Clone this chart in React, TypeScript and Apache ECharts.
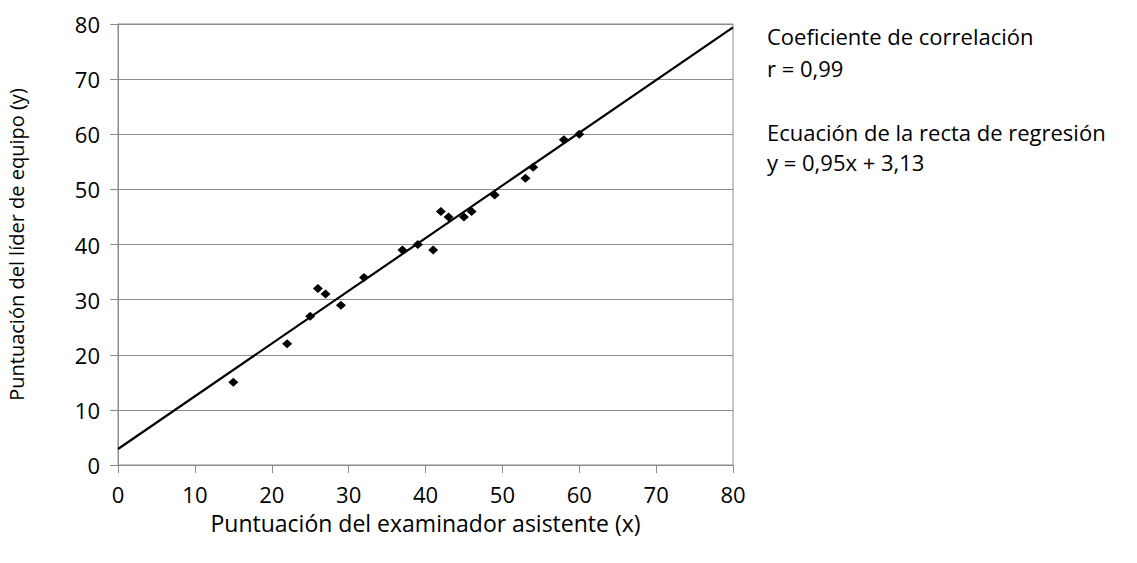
import React, { useEffect, useRef } from "react";
import * as echarts from "echarts";

const xValues = [15, 22, 25, 26, 27, 29, 32, 37, 39, 41, 42, 43, 45, 46, 49, 53, 54, 58, 60];
const yValues = [15, 22, 27, 32, 31, 29, 34, 39, 40, 39, 46, 45, 45, 46, 49, 52, 54, 59, 60];
const lineX = [0, 80];
const lineY = [2.9, 79.4];
const xTitle = "Puntuación del examinador asistente (x)";
const yTitle = "Puntuación del líder de equipo (y)";
const notes = [
  "Coeficiente de correlación",
  "r = 0,99",
  "Ecuación de la recta de regresión",
  "y = 0,95x + 3,13",
];

const FONT = "'Open Sans', 'Noto Sans', sans-serif";
const noteY = [36, 68, 132, 162];

export default function App() {
  const ref = useRef<HTMLDivElement>(null);
  useEffect(() => {
    if (!ref.current) return;
    const chart = echarts.init(ref.current, undefined, { renderer: "svg" });
    const points = xValues.map((x, i) => [x, yValues[i]]);
    const line = lineX.map((x, i) => [x, lineY[i]]);
    chart.setOption({
      animation: false,
      backgroundColor: "#fff",
      textStyle: { fontFamily: FONT },
      grid: {
        left: 118,
        right: 404,
        top: 24,
        bottom: 98,
        show: true,
        borderColor: "#8c8c8c",
        borderWidth: 1,
        containLabel: false,
        outerBoundsMode: "none",
      },
      xAxis: {
        type: "value",
        min: 0,
        max: 80,
        interval: 10,
        name: xTitle,
        nameLocation: "middle",
        nameGap: 46,
        nameTextStyle: { fontSize: 23, color: "#000", fontFamily: FONT },
        axisLine: { show: true, lineStyle: { color: "#8c8c8c", width: 1 } },
        axisTick: { show: true, inside: false, length: 8, lineStyle: { color: "#8c8c8c" } },
        axisLabel: { fontSize: 22, color: "#000", margin: 18, fontFamily: FONT },
        splitLine: { show: false },
      },
      yAxis: {
        type: "value",
        min: 0,
        max: 80,
        interval: 10,
        name: yTitle,
        nameLocation: "middle",
        nameGap: 92,
        nameRotate: 90,
        nameTextStyle: { fontSize: 20, color: "#000", fontFamily: FONT },
        axisLine: { show: true, lineStyle: { color: "#8c8c8c", width: 1 } },
        axisTick: { show: true, inside: false, length: 8, lineStyle: { color: "#8c8c8c" } },
        axisLabel: { fontSize: 22, color: "#000", margin: 18, fontFamily: FONT },
        splitLine: { show: true, lineStyle: { color: "#8c8c8c", width: 1 } },
      },
      graphic: notes.map((t, i) => ({
        type: "text",
        x: 767,
        y: noteY[i],
        style: { text: t, fontSize: 22, fill: "#000", fontFamily: FONT, verticalAlign: "middle", align: "left" },
      })),
      series: [
        {
          type: "line",
          data: line,
          showSymbol: false,
          symbol: "none",
          lineStyle: { color: "#000", width: 2.2 },
          z: 2,
        },
        {
          type: "scatter",
          data: points,
          symbol: "diamond",
          symbolSize: [10, 9],
          itemStyle: { color: "#000", opacity: 1 },
          z: 3,
        },
      ],
    });
    return () => chart.dispose();
  }, []);
  return <div ref={ref} style={{ width: 1137, height: 563, position: "absolute", left: 0, top: 0 }} />;
}
